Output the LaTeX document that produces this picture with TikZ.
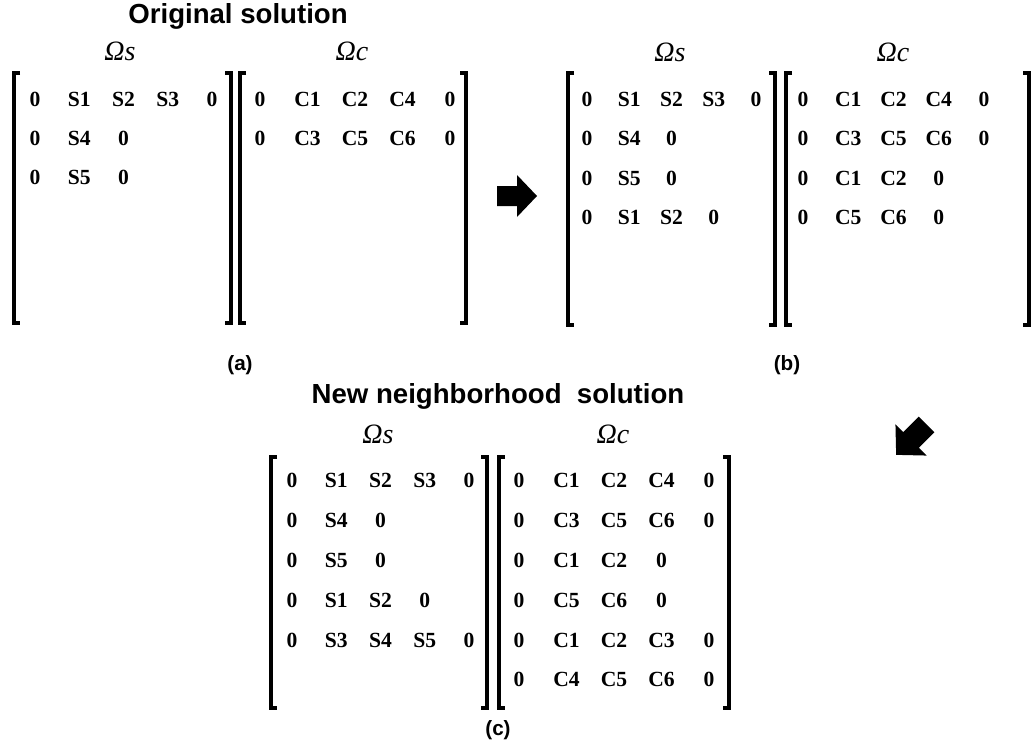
\documentclass[tikz,border=0pt]{standalone}
\usepackage{fontspec}
\setmainfont{Liberation Serif}
\newfontfamily\titlefont{Liberation Sans}
\tikzset{
  ttl/.style={font=\titlefont\bfseries\fontsize{20.7}{24}\selectfont, anchor=base, inner sep=0pt},
  omg/.style={font=\itshape\fontsize{21}{24}\selectfont, anchor=base, inner sep=0pt},
  ent/.style={font=\bfseries\fontsize{16.2}{18}\selectfont, inner sep=0pt},
  lbl/.style={font=\titlefont\bfseries\fontsize{15.5}{18}\selectfont, inner sep=0pt},
  brk/.style={line width=2.5pt, line cap=butt, line join=miter},
}
\newcommand\mrow[5]{\foreach \t [count=\i from 0] in {#5}{\node[ent] (#1-\i) at ({#3+\i*#4},#2) {\t};}}
\newcommand\lbrk[3]{\draw[brk] (#1+6,#2) -- (#1,#2) -- (#1,#3) -- (#1+6,#3);}
\newcommand\rbrk[3]{\draw[brk] (#1-6,#2) -- (#1,#2) -- (#1,#3) -- (#1-6,#3);}
\begin{document}
\begin{tikzpicture}[x=0.75pt,y=-0.75pt]
\useasboundingbox (0,0) rectangle (1032,749);
% titles
\node[ttl] (t1) at (238,24) {Original solution};
\node[ttl] (t2) at (498,403) {New neighborhood~ solution};
% omega labels
\node[omg] (oa1) at (120,61) {Ωs};
\node[omg] (oa2) at (352,61) {Ωc};
\node[omg] (ob1) at (670,62) {Ωs};
\node[omg] (ob2) at (893,62) {Ωc};
\node[omg] (oc1) at (378,443) {Ωs};
\node[omg] (oc2) at (613,443) {Ωc};
% panel labels
\node[lbl] (la) at (240,365) {(a)};
\node[lbl] (lb) at (787,365) {(b)};
\node[lbl] (lc) at (498,730) {(c)};
% brackets (a)
\lbrk{14}{73}{323} \rbrk{231}{73}{323}
\lbrk{240}{73}{323} \rbrk{466}{73}{323}
% brackets (b)
\lbrk{568}{73}{325} \rbrk{775}{73}{325}
\lbrk{786}{73}{325} \rbrk{1029}{73}{325}
% brackets (c)
\lbrk{271}{457}{708} \rbrk{487}{457}{708}
\lbrk{499}{457}{708} \rbrk{729}{457}{708}
% panel (a)
\mrow{as1}{99}{35}{44.25}{0,S1,S2,S3,0}
\mrow{as2}{138}{35}{44.25}{0,S4,0}
\mrow{as3}{177}{35}{44.25}{0,S5,0}
\mrow{ac1}{99}{260}{47.5}{0,C1,C2,C4,0}
\mrow{ac2}{138}{260}{47.5}{0,C3,C5,C6,0}
% panel (b)
\mrow{bs1}{99}{587}{42.25}{0,S1,S2,S3,0}
\mrow{bs2}{138.5}{587}{42.25}{0,S4,0}
\mrow{bs3}{178}{587}{42.25}{0,S5,0}
\mrow{bs4}{217.5}{587}{42.25}{0,S1,S2,0}
\mrow{bc1}{99}{803}{45.25}{0,C1,C2,C4,0}
\mrow{bc2}{138.5}{803}{45.25}{0,C3,C5,C6,0}
\mrow{bc3}{178}{803}{45.25}{0,C1,C2,0}
\mrow{bc4}{217.5}{803}{45.25}{0,C5,C6,0}
% panel (c)
\mrow{cs1}{480}{292}{44.25}{0,S1,S2,S3,0}
\mrow{cs2}{520}{292}{44.25}{0,S4,0}
\mrow{cs3}{560}{292}{44.25}{0,S5,0}
\mrow{cs4}{600}{292}{44.25}{0,S1,S2,0}
\mrow{cs5}{640}{292}{44.25}{0,S3,S4,S5,0}
\mrow{cc1}{480}{519}{47.5}{0,C1,C2,C4,0}
\mrow{cc2}{520}{519}{47.5}{0,C3,C5,C6,0}
\mrow{cc3}{560}{519}{47.5}{0,C1,C2,0}
\mrow{cc4}{600}{519}{47.5}{0,C5,C6,0}
\mrow{cc5}{640}{519}{47.5}{0,C1,C2,C3,0}
\mrow{cc6}{679}{519}{47.5}{0,C4,C5,C6,0}
% block arrows
\begin{scope}[shift={(517,196)}]
\fill (-20,-10) -- (0,-10) -- (0,-21) -- (20,0) -- (0,21) -- (0,10) -- (-20,10) -- cycle;
\end{scope}
\begin{scope}[shift={(911,440)}, rotate=225]
\fill (-22,-11) -- (0,-11) -- (0,-22) -- (21,0) -- (0,22) -- (0,11) -- (-22,11) -- cycle;
\end{scope}
\end{tikzpicture}
\end{document}
